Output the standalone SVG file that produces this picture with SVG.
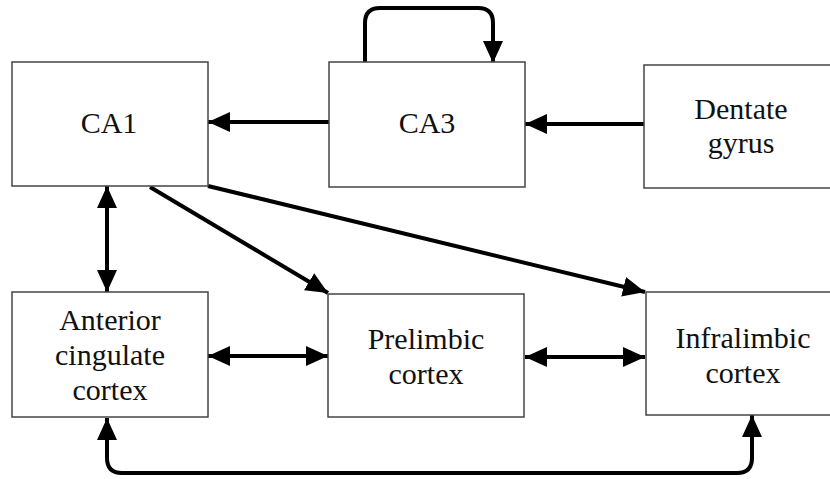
<svg xmlns="http://www.w3.org/2000/svg" width="830" height="479" viewBox="0 0 830 479">
<style>
.box{fill:#fff;stroke:#444;stroke-width:1.5}
.lbl{font-size:30px;fill:#111;text-anchor:middle}
.c{fill:none;stroke:#000;stroke-width:4}
</style>
<defs>
<marker id="ah" markerUnits="userSpaceOnUse" markerWidth="22" markerHeight="20" viewBox="0 0 22 20" refX="22" refY="10" orient="auto-start-reverse">
<path d="M0,0 L22,10 L0,20 z" fill="#000"/>
</marker>
</defs>
<rect width="830" height="479" fill="#fff"/>
<g id="connectors">
<path class="c" d="M329,122 L208,122" marker-end="url(#ah)"/>
<path class="c" d="M644,124 L525,124" marker-end="url(#ah)"/>
<path class="c" d="M365,62 V23 Q365,8 380,8 H478 Q493,8 493,23 V63" marker-end="url(#ah)"/>
<path class="c" d="M107,186 L107,292" marker-start="url(#ah)" marker-end="url(#ah)"/>
<path class="c" d="M150,187 L328,293" marker-end="url(#ah)"/>
<path class="c" d="M208,186 L645,292" marker-end="url(#ah)"/>
<path class="c" d="M208,356 L328,356" marker-start="url(#ah)" marker-end="url(#ah)"/>
<path class="c" d="M525,357 L645,357" marker-start="url(#ah)" marker-end="url(#ah)"/>
<path class="c" d="M107,418 V458 Q107,473 122,473 H737 Q752,473 752,458 V415" marker-start="url(#ah)" marker-end="url(#ah)"/>
</g>
<g font-family="'Liberation Serif', 'Times New Roman', serif">
<g id="ca1"><rect class="box" x="12" y="62" width="196" height="124"/><text class="lbl" x="109" y="133">CA1</text></g>
<g id="ca3"><rect class="box" x="329" y="62" width="196" height="125"/><text class="lbl" x="427" y="133">CA3</text></g>
<g id="dentate"><rect class="box" x="644" y="65" width="200" height="123"/><text class="lbl" x="741" y="119">Dentate</text><text class="lbl" x="741" y="153">gyrus</text></g>
<g id="acc"><rect class="box" x="12" y="292" width="196" height="125"/><text class="lbl" x="110" y="330">Anterior</text><text class="lbl" x="110" y="365">cingulate</text><text class="lbl" x="110" y="400">cortex</text></g>
<g id="prelimbic"><rect class="box" x="328" y="294" width="196" height="123"/><text class="lbl" x="426" y="349">Prelimbic</text><text class="lbl" x="426" y="384">cortex</text></g>
<g id="infralimbic"><rect class="box" x="646" y="292" width="200" height="123"/><text class="lbl" x="743" y="348">Infralimbic</text><text class="lbl" x="743" y="383">cortex</text></g>
</g>
</svg>
